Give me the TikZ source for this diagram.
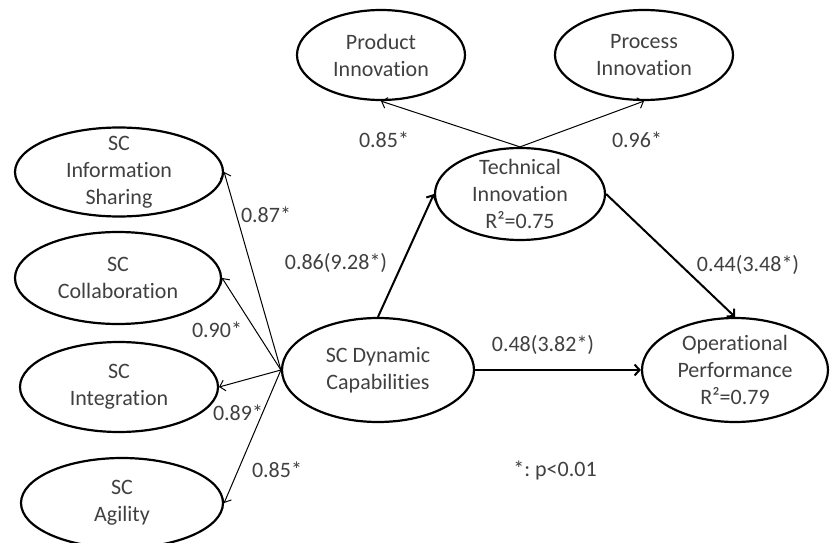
\documentclass[tikz,border=0pt]{standalone}
\usepackage{fontspec}
\setmainfont[Ligatures=NoCommon]{Carlito}
\usetikzlibrary{shapes.geometric,arrows.meta}
\frenchspacing
\begin{document}
\begin{tikzpicture}[x=1pt,y=-1pt,
    ell/.style={ellipse,draw,line width=2.2pt,inner sep=-30pt,align=center,text=black!75},
    lbl/.style={inner sep=0pt,text=black!75},
    ld/.style={line width=1pt,-{Straight Barb[length=5pt,width=11pt]}},
    pth/.style={line width=2pt,-{Straight Barb[length=5pt,width=11pt]}},
    font=\fontsize{22}{27}\selectfont]
        \useasboundingbox (0,0) rectangle (831,543);
        % constructs
        \node[ell,minimum width=208pt,minimum height=89pt] (info) at (119,172) {SC\\Information\\Sharing};
        \node[ell,minimum width=206pt,minimum height=92pt] (collab) at (118,278) {SC\\Collaboration};
        \node[ell,minimum width=198pt,minimum height=90pt] (integ) at (119,387) {SC\\Integration};
        \node[ell,minimum width=202pt,minimum height=90pt] (agil) at (122,503) {SC\\Agility};
        \node[ell,minimum width=192pt,minimum height=104pt] (dyn) at (378,370) {SC Dynamic\\Capabilities};
        \node[ell,minimum width=170pt,minimum height=92pt] (tech) at (520,194) {Technical\\Innovation\\R²=0.75};
        \node[ell,minimum width=168pt,minimum height=90pt] (prod) at (381,55) {Product\\Innovation};
        \node[ell,minimum width=178pt,minimum height=90pt] (proc) at (644,55) {Process\\Innovation};
        \node[ell,minimum width=186pt,minimum height=104pt] (oper) at (735,370) {Operational\\Performance\\R²=0.79};
        % loadings
        \draw[ld] (dyn.west) -- (info.east);
        \draw[ld] (dyn.west) -- (collab.east);
        \draw[ld] (dyn.west) -- (integ.east);
        \draw[ld] (dyn.west) -- (agil.east);
        \draw[ld] (tech.north) -- (prod.south);
        \draw[ld] (tech.north) -- (proc.south);
        % paths
        \draw[pth] (dyn.north) -- (tech.west);
        \draw[pth] (tech.east) -- (oper.north);
        \draw[pth] (dyn.east) -- (oper.west);
        % coefficients
        \node[lbl] (l87) at (266,215) {0.87*};
        \node[lbl] (l90) at (217,330) {0.90*};
        \node[lbl] (l89) at (238,413) {0.89*};
        \node[lbl] (l85a) at (277,470) {0.85*};
        \node[lbl] (l85b) at (384,140) {0.85*};
        \node[lbl] (l96) at (637,140) {0.96*};
        \node[lbl] (l86) at (336,263) {0.86(9.28*)};
        \node[lbl] (l44) at (748,265) {0.44(3.48*)};
        \node[lbl] (l48) at (543,345) {0.48(3.82*)};
        \node[lbl] (note) at (555,470) {*: p<0.01};
\end{tikzpicture}
\end{document}
